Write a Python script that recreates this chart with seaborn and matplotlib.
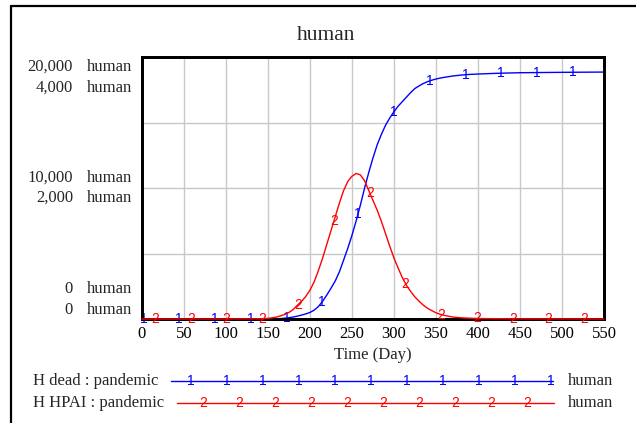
import numpy as np
import pandas as pd
import matplotlib
matplotlib.use("Agg")
import matplotlib.pyplot as plt
import matplotlib.transforms as mtransforms
from matplotlib.lines import Line2D
import seaborn as sns

# ---- data ----
days = [0, 50, 100, 140, 150, 155, 160, 165, 170, 175, 180, 185, 190, 195, 200,
        205, 210, 215, 220, 225, 230, 235, 240, 245, 250, 255, 260, 265, 270, 275,
        280, 285, 290, 295, 300, 305, 310, 315, 320, 325, 330, 335, 340, 345, 350,
        355, 360, 370, 380, 390, 400, 420, 450, 500, 550]
h_dead = [0, 0, 0, 0, 5, 10, 20, 35, 60, 100, 150, 220, 300, 390, 500,
          680, 950, 1350, 1830, 2350, 2900, 3600, 4500, 5400, 6400, 7500, 8700,
          10000, 11200, 12300, 13300, 14100, 14800, 15350, 15830, 16250, 16600,
          16950, 17300, 17600, 17800, 17980, 18120, 18230, 18320, 18390, 18450,
          18550, 18620, 18670, 18700, 18750, 18800, 18830, 18850]
h_hpai = [0, 0, 0, 3, 10, 18, 30, 48, 70, 100, 145, 210, 270, 345, 440,
          570, 740, 930, 1140, 1350, 1560, 1770, 1960, 2100, 2180, 2222, 2200,
          2110, 1960, 1810, 1660, 1490, 1300, 1110, 930, 775, 630, 510, 417, 335,
          270, 210, 163, 128, 95, 72, 55, 30, 18, 12, 8, 4, 2, 1, 0]
x_ticks = [0, 50, 100, 150, 200, 250, 300, 350, 400, 450, 500, 550]
dead_ticks = [20000, 10000, 0]
hpai_ticks = [4000, 2000, 0]
series_names = ["H dead : pandemic", "H HPAI : pandemic"]
unit = "human"
title = "human"
xlabel = "Time (Day)"

df = pd.DataFrame({"day": days, "dead": h_dead, "hpai": h_hpai})

sns.set_theme(style="white")
plt.rcParams["font.family"] = ["Liberation Serif", "DejaVu Sans"]

W, H = 636, 423
fig = plt.figure(figsize=(W / 100, H / 100), dpi=100)

def fx(x):
    return x / W

def fy(y):
    return 1 - y / H

L, R, T, B = 142, 604, 57, 319
ax = fig.add_axes([fx(L), fy(B), (R - L) / W, (B - T) / H])
ax2 = ax.twinx()

BLUE = "#0000ff"
RED = "#ff0000"

sns.lineplot(data=df, x="day", y="dead", ax=ax, color=BLUE, lw=1.0, zorder=3)
sns.lineplot(data=df, x="day", y="hpai", ax=ax2, color=RED, lw=1.0, zorder=3)
for a in (ax, ax2):
    for ln in a.lines:
        ln.set_clip_on(False)

ax.set_xlim(0, 550)
ax.set_ylim(0, max(dead_ticks))
ax2.set_ylim(0, max(hpai_ticks))
ax.set_xticks(x_ticks)
ax.set_xticklabels([str(t) for t in x_ticks])
ax.set_yticks(np.linspace(0, max(dead_ticks), 5))
ax.set_yticklabels([])
ax2.set_yticks([])
ax.grid(True, color="#c8c8c8", lw=1.0)
ax.set_axisbelow(True)
ax.tick_params(axis="x", length=0, labelsize=12, pad=5, colors="black")
ax.tick_params(axis="y", length=0)
ax.set_xlabel("")
ax.set_ylabel("")
ax2.set_ylabel("")
for a in (ax, ax2):
    for s in a.spines.values():
        s.set_color("black")
        s.set_linewidth(2.0)

# markers along curves
mk_font = dict(fontsize=10, family="Liberation Sans", ha="center", va="center")
for k in range(13):
    d1 = 1.6 + 42.6 * k
    if d1 <= 550:
        ax.text(d1, np.interp(d1, days, h_dead), "1", color=BLUE, zorder=4,
                clip_on=False, **mk_font)
    d2 = 15.5 + 42.6 * k
    if d2 <= 550:
        ax2.text(d2, np.interp(d2, days, h_hpai), "2", color=RED, zorder=4,
                 clip_on=False, **mk_font)

# y labels (two stacked scales)
offsets = {0: (10, 31), 1: (-10, 10), 2: (-30, -9)}
for i, (vb, vr) in enumerate(zip(dead_ticks, hpai_ticks)):
    ybase = vb / max(dead_ticks)
    o1, o2 = offsets[i]
    for val, off in ((vb, o1), (vr, o2)):
        tr = mtransforms.blended_transform_factory(fig.transFigure, ax.transAxes)
        tr = mtransforms.offset_copy(tr, fig=fig, x=0, y=-off, units="dots")
        fig.text(fx(73), ybase, f"{val:,}", transform=tr, ha="right", va="center",
                 fontsize=12)
        fig.text(fx(87), ybase, unit, transform=tr, ha="left", va="center",
                 fontsize=12)

# title & xlabel
fig.text(fx(326), fy(35), title, fontsize=15.5, ha="center", va="center")
fig.text(fx(373), fy(355), xlabel, fontsize=12, ha="center", va="center")

# outer frame
fig.add_artist(Line2D([fx(11), 1.0], [fy(6), fy(6)], color="black", lw=1.6,
                      transform=fig.transFigure))
fig.add_artist(Line2D([fx(11), fx(11)], [fy(6), 0.0], color="black", lw=1.6,
                      transform=fig.transFigure))

# legend
rows = [(381, BLUE, "1", 171, 553, 191), (403, RED, "2", 177, 554, 203)]
for (yy, col, mk, x0, x1, m0), name in zip(rows, series_names):
    fig.text(fx(33), fy(yy), name, fontsize=12, ha="left", va="center")
    fig.add_artist(Line2D([fx(x0), fx(x1)], [fy(yy), fy(yy)], color=col, lw=1.0,
                          transform=fig.transFigure))
    xm = m0
    while xm <= x1 + 0.5:
        fig.text(fx(xm), fy(yy), mk, color=col, fontsize=10, family="Liberation Sans",
                 ha="center", va="center")
        xm += 36
    fig.text(fx(568), fy(yy), unit, fontsize=12, ha="left", va="center")

fig.savefig("out.png", dpi=100)
